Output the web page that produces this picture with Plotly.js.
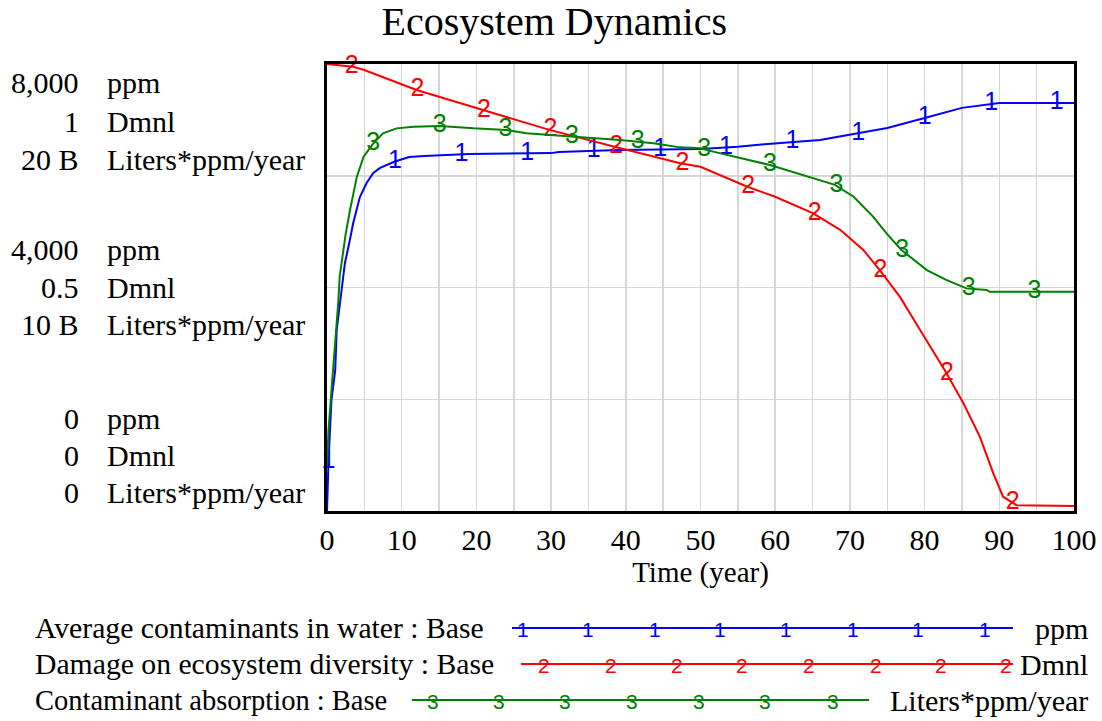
<!DOCTYPE html>
<html>
<head>
<meta charset="utf-8">
<script src="https://cdn.plot.ly/plotly-3.0.1.min.js"></script>
<style>html,body{margin:0;padding:0;background:#fff;}#chart{width:1102px;height:721px;}</style>
</head>
<body>
<div id="chart"></div>
<script>
// ---------------- DATA ----------------
const chartTitle = "Ecosystem Dynamics";
const xTitle = "Time (year)";
const xTickVals = [0,5,10,15,20,25,30,35,40,45,50,55,60,65,70,75,80,85,90,95,100];
const xTickText = ["0","","10","","20","","30","","40","","50","","60","","70","","80","","90","","100"];

const seriesNames = ["Average contaminants in water : Base", "Damage on ecosystem diversity : Base", "Contaminant absorption : Base"];
const seriesUnits = ["ppm", "Dmnl", "Liters*ppm/year"];
const seriesMarks = ["1", "2", "3"];

// Average contaminants in water (ppm)
const timeBlue = [0, 0.2, 0.6, 1.1, 1.3, 1.7, 2.0, 2.4, 3.0, 3.5, 4.4, 5.3, 6.2, 7.1, 9, 11, 13, 19, 30, 31, 39, 47, 50, 55, 59, 66, 70, 75, 80, 85, 90, 100];
const avgContaminants = [0, 880, 1990, 2520, 3240, 3650, 3990, 4440, 4810, 5150, 5620, 5870, 6050, 6140, 6250, 6335, 6355, 6390, 6405, 6425, 6460, 6475, 6480, 6520, 6570, 6640, 6730, 6855, 7035, 7215, 7300, 7300];

// Damage on ecosystem diversity (Dmnl)
const timeRed = [0, 3.5, 4.9, 12, 20.9, 29.9, 38.5, 47.3, 50, 56.2, 60, 65.1, 68.7, 71.8, 74, 76.7, 79.4, 82.7, 85.2, 87.4, 89.2, 90.5, 92.3, 100];
const damageDiversity = [1.0, 0.994, 0.987, 0.942, 0.897, 0.852, 0.815, 0.778, 0.770, 0.726, 0.703, 0.666, 0.629, 0.584, 0.539, 0.479, 0.405, 0.315, 0.241, 0.166, 0.084, 0.032, 0.013, 0.011];

// Contaminant absorption (billion Liters*ppm/year)
const timeGreen = [0, 0.2, 0.6, 1.1, 1.5, 1.7, 2.2, 2.5, 3.1, 4.0, 4.9, 6.2, 7.5, 9.3, 11.6, 15.1, 19.6, 24, 26.7, 33, 39.2, 43.7, 47.3, 50, 51.7, 59.3, 65.1, 68, 70.5, 73.1, 74.9, 76.9, 80.3, 82.9, 85.6, 88.3, 88.7, 100];
const absorptionB = [2.0, 3.6, 5.4, 7.35, 9.3, 10.5, 11.7, 12.4, 13.5, 14.96, 15.85, 16.45, 16.9, 17.12, 17.19, 17.23, 17.12, 17.05, 16.9, 16.75, 16.6, 16.45, 16.27, 16.23, 16.08, 15.48, 14.88, 14.59, 14.06, 13.17, 12.42, 11.68, 10.78, 10.34, 9.96, 9.89, 9.81, 9.81];

// Times at which the series number labels sit
const blueMarkTimes = [0.2, 9.1, 18.0, 26.8, 35.7, 44.6, 53.4, 62.3, 71.1, 80.0, 88.9, 97.7];
const redMarkTimes = [3.3, 12.1, 21.0, 29.9, 38.7, 47.6, 56.4, 65.3, 74.1, 83.0, 91.8];
const greenMarkTimes = [6.2, 15.1, 23.9, 32.8, 41.6, 50.5, 59.3, 68.2, 77.0, 85.9, 94.7];

// Left scale labels (top, middle, bottom)
const scaleNums = [["8,000","1","20 B"],["4,000","0.5","10 B"],["0","0","0"]];

// ---------------- LAYOUT HELPERS ----------------
const W = 1102, H = 721;
const PL = 327, PR = 1074, PT = 64, PB = 511;
const px = x => (x - PL) / (PR - PL);
const py = y => (PB - y) / (PB - PT);

function interp(ts, vs, t) {
  if (t <= ts[0]) return vs[0];
  for (let i = 1; i < ts.length; i++) {
    if (t <= ts[i]) {
      const f = (t - ts[i-1]) / (ts[i] - ts[i-1]);
      return vs[i-1] + f * (vs[i] - vs[i-1]);
    }
  }
  return vs[vs.length-1];
}

const colors = ["#0000ff", "#ff0000", "#008000"];
const serif = "Liberation Serif";
const sans = "Liberation Sans";
const markFont = 25;

const series = [
  {t: timeBlue, v: avgContaminants, ax: "y", marks: blueMarkTimes},
  {t: timeRed, v: damageDiversity, ax: "y2", marks: redMarkTimes},
  {t: timeGreen, v: absorptionB, ax: "y3", marks: greenMarkTimes}
];

const traces = [];
series.forEach((s, i) => {
  traces.push({
    x: s.t, y: s.v, yaxis: s.ax, type: "scatter", mode: "lines",
    line: {color: colors[i], width: 2}, hoverinfo: "skip", showlegend: false
  });
});
series.forEach((s, i) => {
  traces.push({
    x: s.marks, y: s.marks.map(t => interp(s.t, s.v, t)), yaxis: s.ax,
    type: "scatter", mode: "text", text: s.marks.map(() => seriesMarks[i]),
    textposition: "middle center", cliponaxis: false,
    textfont: {family: sans, size: markFont, color: colors[i]},
    hoverinfo: "skip", showlegend: false
  });
});

const annotations = [];
// left scale labels
const groupCenters = [[82,121,159],[249,287,324],[418,455,492]];
scaleNums.forEach((g, gi) => {
  g.forEach((num, ri) => {
    const yc = groupCenters[gi][ri];
    annotations.push({xref:"paper", yref:"paper", x: px(81), y: py(yc), xanchor:"right", yanchor:"middle",
      text: num, showarrow:false, font:{family: serif, size: 30, color:"#000"}});
    annotations.push({xref:"paper", yref:"paper", x: px(105), y: py(yc), xanchor:"left", yanchor:"middle",
      text: seriesUnits[ri], showarrow:false, font:{family: serif, size: 30, color:"#000"}});
  });
});

// bottom legend
const legendRows = [628, 664, 700];
const legendFont = [29.7, 29.7, 28.5];
const legendLine = [[512, 1013], [521, 1013], [412, 869]];
const legendMarkX = [
  [523, 588, 655, 720, 786, 853, 918, 985],
  [544, 611, 677, 742, 809, 876, 941, 1006],
  [433, 499, 565, 632, 699, 765, 833]
];
const shapes = [];
seriesNames.forEach((name, i) => {
  const y = legendRows[i];
  annotations.push({xref:"paper", yref:"paper", x: px(33), y: py(y), xanchor:"left", yanchor:"middle",
    text: name, showarrow:false, font:{family: serif, size: legendFont[i], color:"#000"}});
  annotations.push({xref:"paper", yref:"paper", x: px(1090), y: py(y), xanchor:"right", yanchor:"middle",
    text: seriesUnits[i], showarrow:false, font:{family: serif, size: 30, color:"#000"}});
  shapes.push({type:"line", xref:"paper", yref:"paper", x0: px(legendLine[i][0]), x1: px(legendLine[i][1]),
    y0: py(y), y1: py(y), line:{color: colors[i], width: 2}});
  legendMarkX[i].forEach(mx => {
    annotations.push({xref:"paper", yref:"paper", x: px(mx), y: py(y + 1), xanchor:"center", yanchor:"middle",
      text: seriesMarks[i], showarrow:false, font:{family: sans, size: 21, color: colors[i]}});
  });
});

const gridColor = "#d6d6d6";
const layout = {
  width: W, height: H,
  margin: {l: PL, r: W - PR, t: PT, b: H - PB, pad: 0},
  paper_bgcolor: "#fff", plot_bgcolor: "#fff",
  showlegend: false,
  font: {family: serif, color: "#000"},
  title: {text: chartTitle, font: {family: serif, size: 40, color: "#000"},
    xref: "container", x: 0.503, xanchor: "center", yref: "container", y: 1 - 21/H, yanchor: "middle"},
  xaxis: {
    range: [0, 100], tickmode: "array", tickvals: xTickVals, ticktext: xTickText,
    showgrid: true, gridcolor: gridColor, gridwidth: 1.5, zeroline: false,
    showline: true, mirror: true, linecolor: "#000", linewidth: 3,
    ticks: "", tickfont: {family: serif, size: 30, color: "#000"},
    title: {text: xTitle, font: {family: serif, size: 29, color: "#000"}, standoff: 7},
    fixedrange: true
  },
  yaxis: {
    range: [0, 8000], dtick: 2000, tick0: 0, showticklabels: false,
    showgrid: true, gridcolor: gridColor, gridwidth: 1.5, zeroline: false,
    showline: true, mirror: true, linecolor: "#000", linewidth: 3, ticks: "", fixedrange: true
  },
  yaxis2: {range: [0, 1], overlaying: "y", visible: false, fixedrange: true},
  yaxis3: {range: [0, 20], overlaying: "y", visible: false, fixedrange: true},
  annotations: annotations,
  shapes: shapes
};

Plotly.newPlot("chart", traces, layout, {staticPlot: true, displayModeBar: false});
</script>
</body>
</html>
